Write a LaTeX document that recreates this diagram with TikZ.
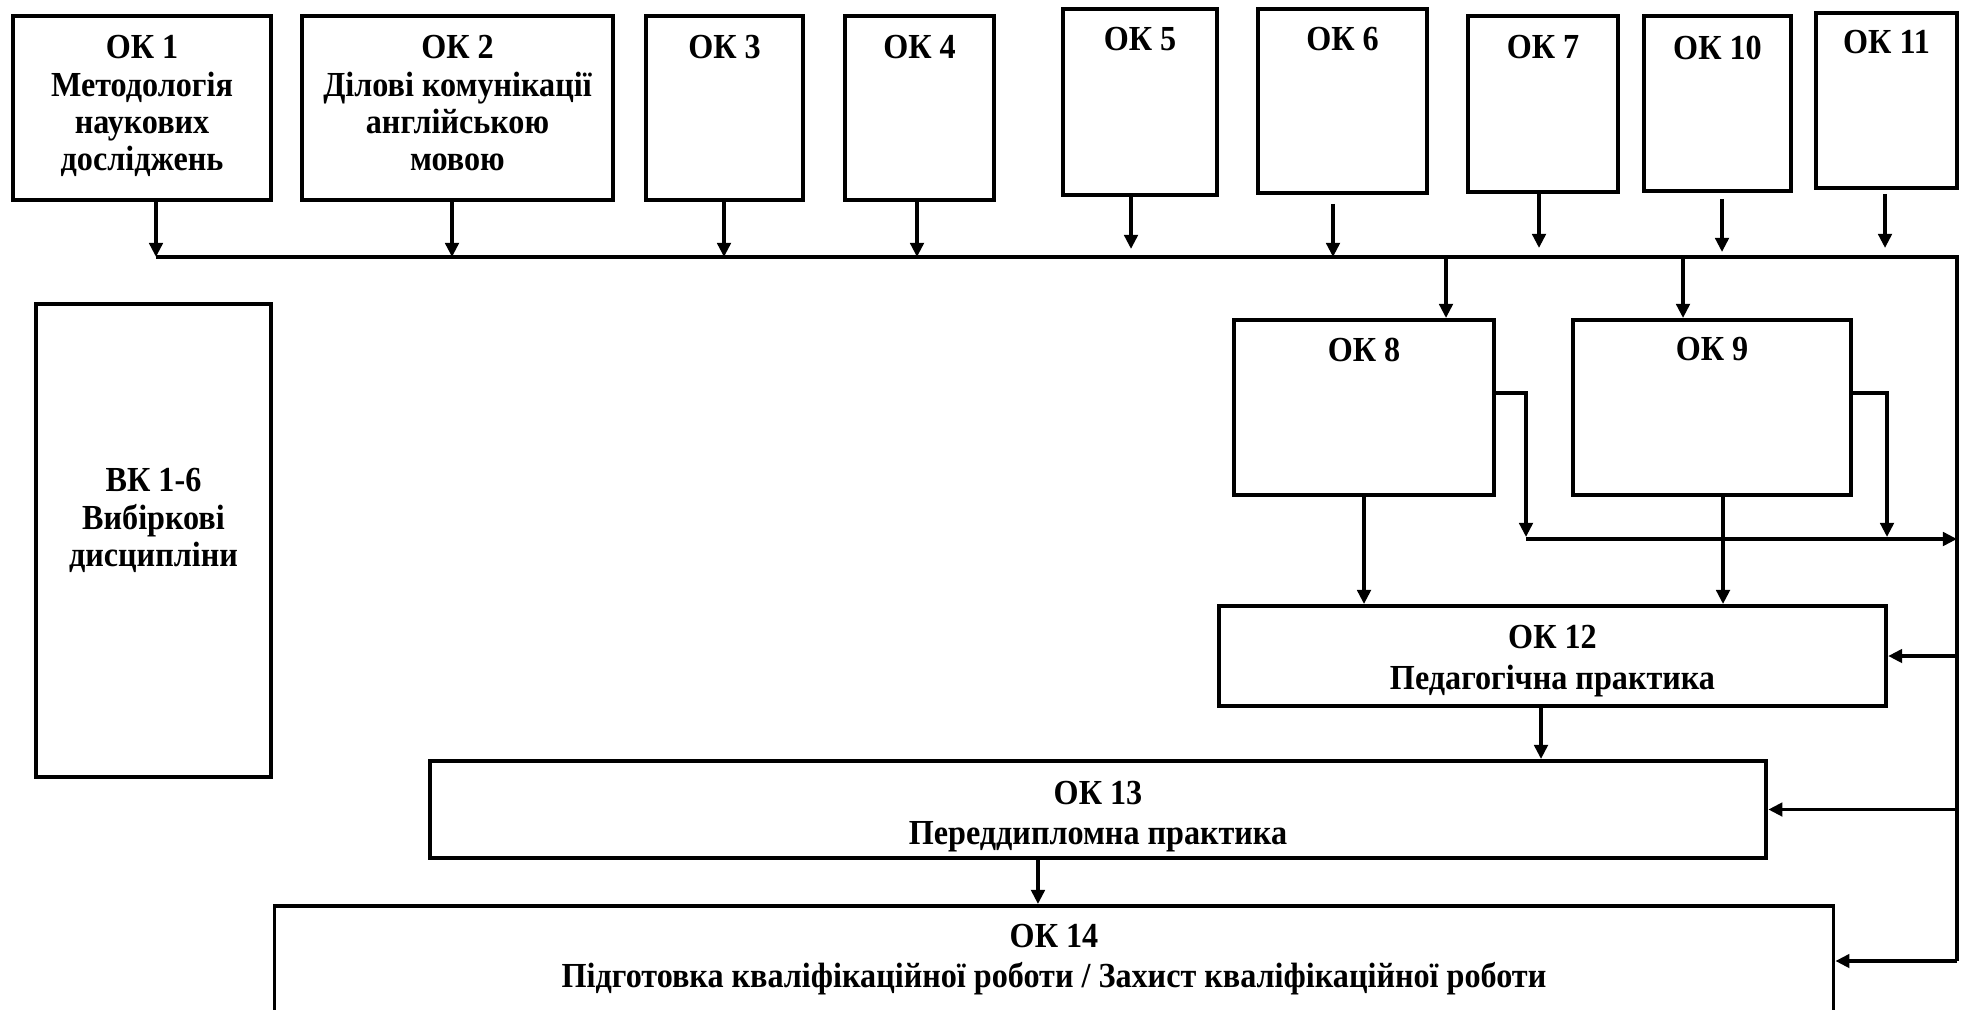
\documentclass[tikz,border=0pt]{standalone}
\usepackage{fontspec}
\setmainfont{Liberation Serif}[FakeStretch=0.915]
\usepackage{tikz}
\usetikzlibrary{arrows.meta,calc}
\tikzset{>={Triangle[length=4pt,width=3.8pt]}}

\begin{document}
\begin{tikzpicture}[x=0.01cm, y=-0.01cm,
    box/.style={draw, line width=1.1pt, inner sep=0pt},
    txt/.style={font=\fontsize{10}{10.6}\selectfont\bfseries, align=center, anchor=north, inner sep=0pt},
    arr/.style={->, line width=1pt},
    bus/.style={line width=1.2pt}]
  \useasboundingbox (0,0) rectangle (1964,1009);
  \clip (0,0) rectangle (1964,1009);

  % top row
  \node[box, minimum width=2.58cm, minimum height=1.84cm] (ok1) at (142,108) {};
  \node[box, minimum width=3.11cm, minimum height=1.84cm] (ok2) at (457.5,108) {};
  \node[box, minimum width=1.57cm, minimum height=1.84cm] (ok3) at (724.5,108) {};
  \node[box, minimum width=1.49cm, minimum height=1.84cm] (ok4) at (919.5,108) {};
  \node[box, minimum width=1.54cm, minimum height=1.86cm] (ok5) at (1140,102) {};
  \node[box, minimum width=1.69cm, minimum height=1.84cm] (ok6) at (1342.5,101) {};
  \node[box, minimum width=1.50cm, minimum height=1.76cm] (ok7) at (1543,104) {};
  \node[box, minimum width=1.47cm, minimum height=1.75cm] (ok10) at (1717.5,103.5) {};
  \node[box, minimum width=1.41cm, minimum height=1.75cm] (ok11) at (1886.5,100.5) {};
  \node[txt] (t1) at (142,35) {ОК 1\\Методологія\\наукових\\досліджень};
  \node[txt] (t2) at (457.5,35) {ОК 2\\Ділові комунікації\\англійською\\мовою};
  \node[txt] (t3) at (724.5,35) {ОК 3};
  \node[txt] (t4) at (919.5,35) {ОК 4};
  \node[txt] (t5) at (1140,27) {ОК 5};
  \node[txt] (t6) at (1342.5,27) {ОК 6};
  \node[txt] (t7) at (1543,35) {ОК 7};
  \node[txt] (t10) at (1717.5,35) {ОК 10};
  \node[txt] (t11) at (1886.5,30) {ОК 11};

  % left and middle
  \node[box, minimum width=2.35cm, minimum height=4.73cm] (vk) at (153.5,540.5) {};
  \node[txt] (tvk) at (153.5,468) {ВК 1-6\\Вибіркові\\дисципліни};
  \node[box, minimum width=2.60cm, minimum height=1.75cm] (ok8) at (1364,407.5) {};
  \node[box, minimum width=2.78cm, minimum height=1.75cm] (ok9) at (1712,407.5) {};
  \node[txt] (t8) at (1364,337) {ОК 8};
  \node[txt] (t9) at (1712,337) {ОК 9};

  % bottom
  \node[box, minimum width=6.67cm, minimum height=1.00cm] (ok12) at (1552.5,656) {};
  \node[box, minimum width=13.36cm, minimum height=0.97cm] (ok13) at (1098,809.5) {};
  \node[box, minimum width=15.58cm, minimum height=1.10cm] (ok14) at (1054,961) {};
  \node[txt] (t12) at (1552.5,625) {ОК 12\\[0.8pt]Педагогічна практика};
  \node[txt] (t13) at (1098,780) {ОК 13\\[0.8pt]Переддипломна практика};
  \node[txt] (t14) at (1054,923) {ОК 14\\[0.8pt]Підготовка кваліфікаційної роботи / Захист кваліфікаційної роботи};

  % bus
  \coordinate (b1) at (156,257);
  \coordinate (b2) at (452,257);
  \coordinate (b3) at (724,257);
  \coordinate (b4) at (917,257);
  \coordinate (b5) at (1131,249);
  \coordinate (b6) at (1333,257);
  \coordinate (b7) at (1539,248);
  \coordinate (b10) at (1722,252);
  \coordinate (b11) at (1885,248);
  \coordinate (r0) at (1957,257);
  \coordinate (r4) at (1957,961);
  \draw[bus] (b1) -- (r0) -- (r4);
  \draw[arr] (ok1.south -| b1) -- (b1);
  \draw[arr] (ok2.south -| b2) -- (b2);
  \draw[arr] (ok3.south -| b3) -- (b3);
  \draw[arr] (ok4.south -| b4) -- (b4);
  \draw[arr] (ok5.south -| b5) -- (b5);
  \draw[arr] ($(ok6.south -| b6)+(0,9)$) -- (b6);
  \draw[arr] (ok7.south -| b7) -- (b7);
  \draw[arr] ($(ok10.south -| b10)+(0,6)$) -- (b10);
  \draw[arr] ($(ok11.south -| b11)+(0,4)$) -- (b11);

  % OK 8, OK 9
  \coordinate (d8) at (1446,257);
  \coordinate (d9) at (1683,257);
  \draw[arr] (d8) -- (d8 |- ok8.north);
  \draw[arr] (d9) -- (d9 |- ok9.north);
  \coordinate (k8) at (1526,393);
  \coordinate (k9) at (1887,393);
  \coordinate (h1) at (1526,539);
  \draw[arr] (ok8.east |- k8) -- (k8) -- ($(k8 |- h1)+(0,-2)$);
  \draw[arr] (ok9.east |- k9) -- (k9) -- ($(k9 |- h1)+(0,-2)$);
  \draw[arr] (h1) -- (h1 -| r0);
  \draw[arr] (ok8.south) -- (ok8.south |- ok12.north);
  \draw[arr] ([xshift=0.11cm]ok9.south) -- ([xshift=0.11cm]ok9.south |- ok12.north);

  % down to OK 14
  \draw[arr] ([xshift=-0.115cm]ok12.south) -- ([xshift=-0.115cm]ok12.south |- ok13.north);
  \draw[arr] ([xshift=-0.6cm]ok13.south) -- ([xshift=-0.6cm]ok13.south |- ok14.north);
  \draw[arr] (ok12.east -| r0) -- (ok12.east);
  \draw[arr] (ok13.east -| r0) -- (ok13.east);
  \draw[arr] (r4) -- (ok14.east);
\end{tikzpicture}
\end{document}
